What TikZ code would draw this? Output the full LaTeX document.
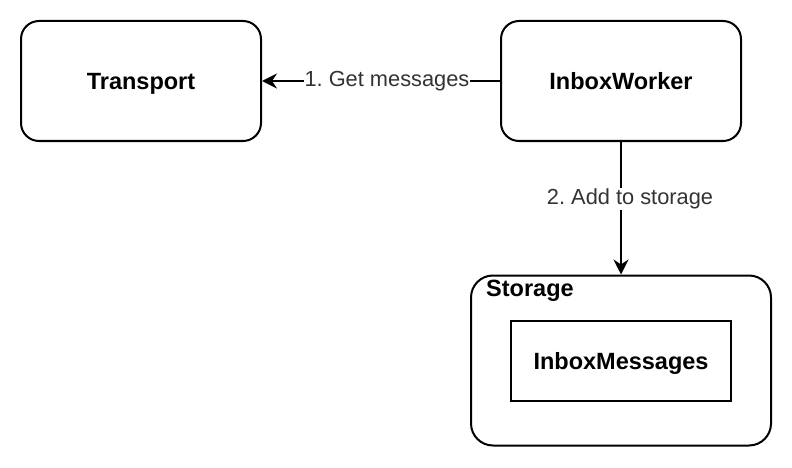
\documentclass[tikz,border=0pt]{standalone}
\usepackage{fontspec}
\setmainfont{Liberation Sans}
\frenchspacing
\usetikzlibrary{arrows.meta,positioning}
\definecolor{FlowInk}{HTML}{000000}
\definecolor{FlowText}{HTML}{333333}
\tikzset{
  flow/node/.style={
    draw=FlowInk, line width=2pt, fill=white,
    rounded corners=18pt, inner sep=0pt, text depth=0pt,
    minimum width=240pt, minimum height=120pt,
    font=\fontsize{23.5}{27}\selectfont\bfseries, align=center
  },
  flow/store/.style={flow/node, rounded corners=22pt,
    minimum width=300pt, minimum height=170pt},
  flow/table/.style={flow/node, rounded corners=0pt,
    minimum width=220pt, minimum height=80pt},
  flow/title/.style={font=\fontsize{23.5}{27}\selectfont\bfseries, inner sep=0pt},
  flow/arrow/.style={
    -{Stealth[length=15pt,width=15pt,inset=5pt]}, line width=2pt, draw=FlowInk
  },
  flow/label/.style={font=\fontsize{21.8}{26}\selectfont, text=FlowText,
    fill=white, inner sep=1pt}
}
\begin{document}
\begin{tikzpicture}[x=1pt,y=-1pt]
  \useasboundingbox (0,0) rectangle (792,468);
  \node[flow/node] (transport) at (141,81) {Transport};
  \node[flow/node] (worker) at (621,81) {InboxWorker};
  \node[flow/store] (storage) at (621,360.5) {};
  \node[flow/title,anchor=west] (storagetitle) at (486,291) {Storage};
  \node[flow/table] (messages) at (621,361) {InboxMessages};
  \draw[flow/arrow] (worker.west)--(transport.east)
    node[flow/label,pos=.475] {1. Get messages};
  \draw[flow/arrow] (worker.south)--(storage.north)
    node[flow/label,pos=.43,xshift=9pt] {2. Add to storage};
\end{tikzpicture}
\end{document}
